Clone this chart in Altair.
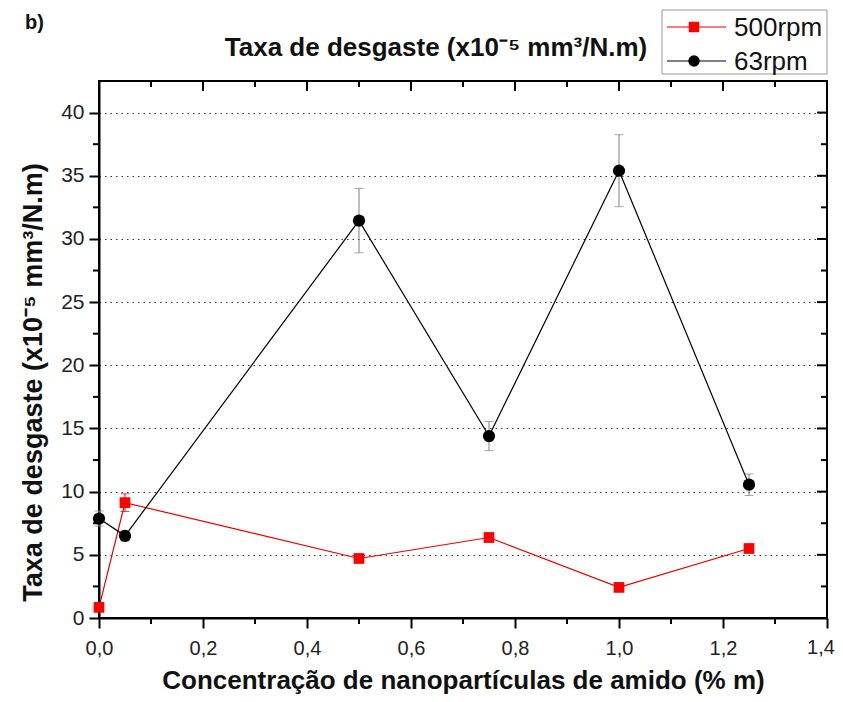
import altair as alt
import pandas as pd

# ---- data ----
conc = [0.0, 0.05, 0.5, 0.75, 1.0, 1.25]
rate_500 = [0.84, 9.13, 4.71, 6.37, 2.42, 5.50]
err_500 = [0.30, 0.70, 0.30, 0.35, 0.30, 0.30]
rate_63 = [7.87, 6.50, 31.45, 14.40, 35.40, 10.55]
err_63 = [0.60, 0.40, 2.55, 1.15, 2.85, 0.85]
series_names = ["500rpm", "63rpm"]

x_major = [0.0, 0.2, 0.4, 0.6, 0.8, 1.0, 1.2, 1.4]
x_minor = [0.1, 0.3, 0.5, 0.7, 0.9, 1.1, 1.3]
y_major = [0, 5, 10, 15, 20, 25, 30, 35, 40]
y_minor = [2.5, 7.5, 12.5, 17.5, 22.5, 27.5, 32.5, 37.5]
x_last_label = [1.4]

title_text = "Taxa de desgaste (x10\u207b\u2075 mm\u00b3/N.m)"
x_title = "Concentração de nanopartículas de amido (% m)"

W, H = 728, 537
FONT = "Liberation Sans"

xs = alt.Scale(domain=[0, 1.4], nice=False, zero=False)
ys = alt.Scale(domain=[0, 42.5], nice=False, zero=False)

X_AXIS = alt.Axis(
    values=x_major, title=x_title,
    labelExpr="datum.value > 1.35 ? '' : replace(format(datum.value, '.1f'), '.', ',')",
    labelFlush=False,
    tickSize=10, tickWidth=2, tickColor="black", domainColor="black", domainWidth=2,
    labelFont=FONT, labelFontSize=20, labelColor="#222", labelPadding=10,
    titleFont=FONT, titleFontSize=26, titleFontWeight="bold", titleColor="#111",
    titleY=70, titleBaseline="alphabetic", grid=False)
Y_AXIS = alt.Axis(
    values=y_major, title=title_text, format="d",
    tickSize=10, tickWidth=2, tickColor="black", domainColor="black", domainWidth=2,
    labelFont=FONT, labelFontSize=21, labelColor="#222", labelPadding=5,
    titleFont=FONT, titleFontSize=27, titleFontWeight="bold", titleColor="#111",
    titleX=-66, titleY=301, titleAngle=270, titleBaseline="middle",
    grid=True, gridDash=[1.5, 4], gridColor="#333", gridWidth=1.2)

def X(field):
    return alt.X(field, type="quantitative", scale=xs, axis=X_AXIS, title=x_title)

def Y(field):
    return alt.Y(field, type="quantitative", scale=ys, axis=Y_AXIS, title=title_text)

def frame(vals, col):
    return pd.DataFrame({col: vals})

df500 = pd.DataFrame({"x": conc, "y": rate_500,
                      "lo": [v - e for v, e in zip(rate_500, err_500)],
                      "hi": [v + e for v, e in zip(rate_500, err_500)]})
df63 = pd.DataFrame({"x": conc, "y": rate_63,
                     "lo": [v - e for v, e in zip(rate_63, err_63)],
                     "hi": [v + e for v, e in zip(rate_63, err_63)]})

def series_layers(df, line_col, err_col, marker):
    line = alt.Chart(df).mark_line(color=line_col, strokeWidth=1.2).encode(x=X("x"), y=Y("y"))
    bar = alt.Chart(df).mark_rule(color=err_col, strokeWidth=1).encode(x=X("x"), y=Y("lo"), y2="hi:Q")
    cap_lo = alt.Chart(df).mark_tick(color=err_col, orient="horizontal", size=9, thickness=1).encode(
        x=X("x"), y=Y("lo"))
    cap_hi = alt.Chart(df).mark_tick(color=err_col, orient="horizontal", size=9, thickness=1).encode(
        x=X("x"), y=Y("hi"))
    return [line, bar, cap_lo, cap_hi, marker]

pts500 = alt.Chart(df500).mark_point(shape="square", filled=True, size=115, color="#ff0000", opacity=1).encode(
    x=X("x"), y=Y("y"))
pts63 = alt.Chart(df63).mark_point(shape="circle", filled=True, size=150, color="#000000", opacity=1).encode(
    x=X("x"), y=Y("y"))

layers500 = series_layers(df500, "#e00000", "#e00000", pts500)
layers63 = series_layers(df63, "#000000", "#808080", pts63)

# extra ticks: minor outward on bottom/left, mirrored inward on top/right
def xtick(vals, y0, y1):
    return alt.Chart(frame(vals, "x")).mark_rule(color="black", strokeWidth=2).encode(
        x=X("x"), y=alt.value(y0), y2=alt.value(y1))

def ytick(vals, x0, x1):
    return alt.Chart(frame(vals, "y")).mark_rule(color="black", strokeWidth=2).encode(
        y=Y("y"), x=alt.value(x0), x2=alt.value(x1))

ticks = [
    xtick(x_minor, H, H + 6),
    xtick(x_major, 0, 10),
    xtick(x_minor, 0, 6),
    ytick(y_minor, -6, 0),
    ytick(y_major, W - 10, W),
    ytick(y_minor, W - 6, W),
]

# last x tick label, nudged left so it stays inside the page
last_label = alt.Chart(frame(x_last_label, "x")).mark_text(
    font=FONT, fontSize=20, color="#222", baseline="top", align="center", dx=-6).encode(
    x=X("x"), y=alt.value(H + 20),
    text=alt.Text("x:Q", format=".1f"))
last_label = last_label.transform_calculate(lbl="replace(format(datum.x, '.1f'), '.', ',')").encode(
    text="lbl:N")

one = pd.DataFrame({"a": [0]})

def text(t, x, y, size, weight="normal", align="left", font=FONT, color="#111"):
    return alt.Chart(one).mark_text(text=t, align=align, baseline="alphabetic", fontSize=size,
                                    fontWeight=weight, font=font, color=color).encode(
        x=alt.value(x), y=alt.value(y))

chart_title = text(title_text, 337, -25, 26, "bold", "center")
panel_label = text("b)", -74, -52, 20, "bold")

# legend (drawn manually to show line + marker)
legend_box = alt.Chart(one).mark_rect(fill="white", stroke="#999", strokeWidth=1).encode(
    x=alt.value(563), x2=alt.value(728), y=alt.value(-71), y2=alt.value(-7))
leg_line_r = alt.Chart(one).mark_rule(color="#e00000", strokeWidth=1.2).encode(
    x=alt.value(568), x2=alt.value(627), y=alt.value(-54))
leg_line_k = alt.Chart(one).mark_rule(color="#000000", strokeWidth=1.2).encode(
    x=alt.value(568), x2=alt.value(627), y=alt.value(-20))
leg_pt_r = alt.Chart(one).mark_point(shape="square", filled=True, size=110, color="#ff0000", opacity=1).encode(
    x=alt.value(595), y=alt.value(-54))
leg_pt_k = alt.Chart(one).mark_point(shape="circle", filled=True, size=130, color="#000000", opacity=1).encode(
    x=alt.value(595), y=alt.value(-20))
leg_t1 = text(series_names[0], 635, -45, 26)
leg_t2 = text(series_names[1], 635, -11, 26)

chart = alt.layer(
    layers500[0], *ticks, last_label, *layers500[1:], *layers63,
    chart_title, panel_label,
    legend_box, leg_line_r, leg_line_k, leg_pt_r, leg_pt_k, leg_t1, leg_t2,
).properties(
    width=W, height=H,
    autosize=alt.AutoSizeParams(type="none"),
    padding={"left": 91, "top": 73, "right": 8, "bottom": 76},
    background="white",
).configure_view(stroke="black", strokeWidth=2)

chart.save("out.html", embed_options={"renderer": "svg", "actions": False})
